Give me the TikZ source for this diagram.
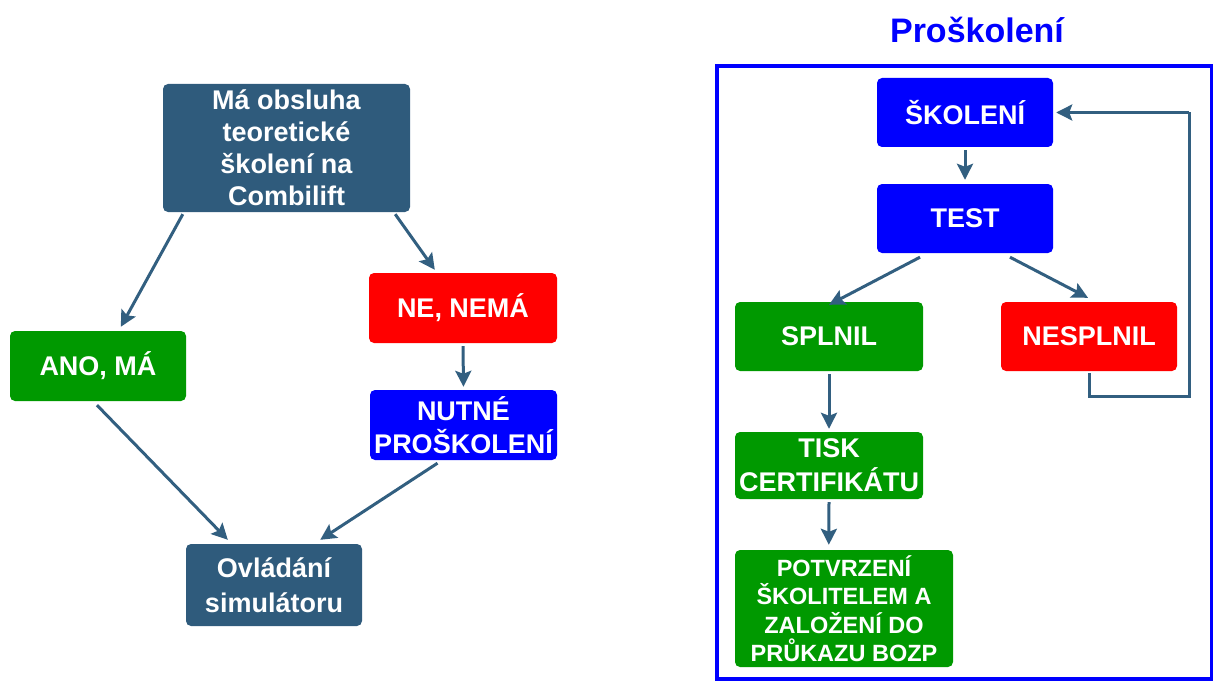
\documentclass[tikz,border=0pt]{standalone}
\usepackage{fontspec}
\setmainfont{Liberation Sans}
\usetikzlibrary{arrows.meta}
\definecolor{dkb}{RGB}{47,91,124}
\definecolor{arr}{RGB}{50,95,128}
\definecolor{gr}{RGB}{0,153,0}
\definecolor{rd}{RGB}{255,0,0}
\definecolor{bl}{RGB}{0,0,255}
\tikzset{
  box/.style={rounded corners=5pt, inner sep=0pt, align=center, text=white,
    font=\fontsize{27}{33}\selectfont\bfseries},
  darkbox/.style={box, fill=dkb},
  greenbox/.style={box, fill=gr},
  redbox/.style={box, fill=rd},
  bluebox/.style={box, fill=bl},
  conn/.style={draw=arr, line width=3pt, -{Stealth[length=16pt,width=16pt,inset=3pt]}},
  loopline/.style={draw=arr, line width=3pt}
}
\begin{document}
\begin{tikzpicture}[x=1pt,y=-1pt]
\useasboundingbox (0,0) rectangle (1213,682);
% left part
\node[darkbox, minimum width=247pt, minimum height=128pt, font=\fontsize{27}{32}\selectfont\bfseries] (q) at (286.5,148) {Má obsluha\\teoretické\\školení na\\Combilift};
\node[greenbox, minimum width=176pt, minimum height=70pt] (ano) at (98,366) {ANO, MÁ};
\node[redbox, minimum width=188pt, minimum height=70pt] (ne) at (463,308) {NE, NEMÁ};
\node[bluebox, minimum width=187pt, minimum height=70pt] (nut) at (463.5,425) {NUTNÉ\\PROŠKOLENÍ};
\node[darkbox, minimum width=176pt, minimum height=82pt, font=\fontsize{27}{35}\selectfont\bfseries] (ovl) at (274,585) {Ovládání\\simulátoru};
\draw[conn] ([shift={(20,2)}]q.south west) -- ([shift={(111,-4)}]ano.north west);
\draw[conn] ([shift={(-15,2)}]q.south east) -- ([shift={(66,-3)}]ne.north west);
\draw[conn] ([yshift=-3pt]ne.south) -- ([yshift=3pt]nut.north);
\draw[conn] ([shift={(-1,4)}]ano.south) -- ([shift={(42,-4)}]ovl.north west);
\draw[conn] ([shift={(-26,3)}]nut.south) -- ([shift={(-42,-4)}]ovl.north east);
% right part
\node[anchor=base, text=bl, font=\fontsize{34}{40}\selectfont\bfseries] (title) at (977,43) {Proškolení};
\node[draw=bl, line width=4.5pt, minimum width=495pt, minimum height=613pt, inner sep=0pt] (frame) at (964.5,372.5) {};
\node[bluebox, minimum width=176pt, minimum height=69pt] (sko) at (965,112.5) {ŠKOLENÍ};
\node[bluebox, minimum width=176pt, minimum height=69pt] (test) at (965,218.5) {TEST};
\node[greenbox, minimum width=188pt, minimum height=69pt] (spl) at (829,336.5) {SPLNIL};
\node[redbox, minimum width=176pt, minimum height=69pt] (nespl) at (1089,336.5) {NESPLNIL};
\node[greenbox, minimum width=188pt, minimum height=67pt, font=\fontsize{27}{34}\selectfont\bfseries] (tisk) at (829,465.5) {TISK\\CERTIFIKÁTU};
\node[greenbox, minimum width=218pt, minimum height=117pt, font=\fontsize{23.5}{28.5}\selectfont\bfseries] (potv) at (844,608.5) {POTVRZENÍ\\ŠKOLITELEM A\\ZALOŽENÍ DO\\PRŮKAZU BOZP};
\draw[conn] ([yshift=-3pt]sko.south) -- ([yshift=4pt]test.north);
\draw[conn] ([shift={(-45,4)}]test.south) -- ([yshift=-3pt]spl.north);
\draw[conn] ([shift={(45,4)}]test.south) -- ([shift={(-1,-4)}]nespl.north);
\draw[conn] ([yshift=-3pt]spl.south) -- ([yshift=3pt]tisk.north);
\draw[conn] ([yshift=-3pt]tisk.south) -- ([shift={(94,-5)}]potv.north west);
\coordinate (c1) at (1089,396);
\coordinate (c2) at (1189,396);
\coordinate (c3) at (1189,112.5);
\draw[loopline] ([yshift=-2pt]nespl.south) -- (c1) -- (c2) -- (c3);
\draw[conn] (c3) -- ([xshift=3pt]sko.east);
\end{tikzpicture}
\end{document}
